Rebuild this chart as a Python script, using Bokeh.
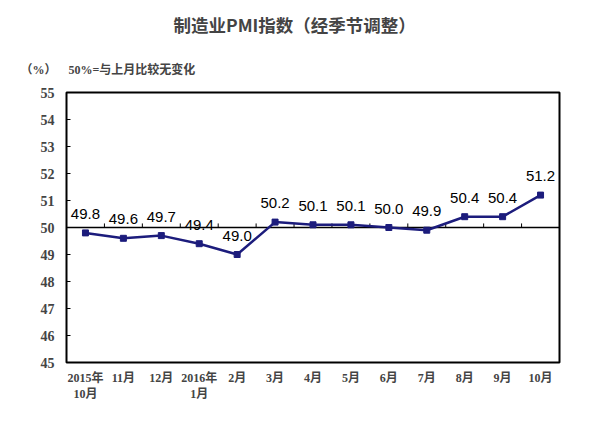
from bokeh.plotting import figure
from bokeh.models import Range1d, FixedTicker, Title, ColumnDataSource, LabelSet
from bokeh.core.properties import value
from bokeh.embed import file_html
from bokeh.resources import INLINE

months = ["2015年\n10月", "11月", "12月", "2016年\n1月", "2月", "3月", "4月",
          "5月", "6月", "7月", "8月", "9月", "10月"]
pmi = [49.8, 49.6, 49.7, 49.4, 49.0, 50.2, 50.1, 50.1, 50.0, 49.9, 50.4, 50.4, 51.2]
y_ticks = [45, 46, 47, 48, 49, 50, 51, 52, 53, 54, 55]
baseline = 50
title_text = "制造业PMI指数（经季节调整）"
sub_text = "（%）\u00a0\u00a0\u00a0\u00a050%=与上月比较无变化"

xs = list(range(len(months)))
labels = [f"{v:.1f}" for v in pmi]
src = ColumnDataSource(dict(x=xs, y=pmi, t=labels))

NAVY = "#1c1c7c"
SERIF = "'Liberation Serif', 'Noto Sans CJK SC'"

p = figure(width=584, height=412, output_backend="svg", toolbar_location=None,
           x_range=Range1d(-0.5, len(months) - 0.5), y_range=Range1d(y_ticks[0], y_ticks[-1]),
           min_border_left=66, min_border_right=25, min_border_bottom=50, min_border_top=14)
p.background_fill_color = "white"
p.border_fill_color = "white"
p.outline_line_color = "black"
p.outline_line_width = 2
p.xgrid.visible = False
p.ygrid.visible = False

# y axis
p.yaxis.ticker = FixedTicker(ticks=y_ticks)
p.yaxis.major_tick_in = 4
p.yaxis.major_tick_out = 0
p.yaxis.minor_tick_line_color = None
p.yaxis.axis_line_color = "black"
p.yaxis.major_label_text_font = SERIF
p.yaxis.major_label_text_font_style = "bold"
p.yaxis.major_label_text_font_size = "14px"
p.yaxis.major_label_standoff = 12

# x axis
p.xaxis.ticker = FixedTicker(ticks=xs)
p.xaxis.major_label_overrides = {i: m for i, m in enumerate(months)}
p.xaxis.major_tick_line_color = None
p.xaxis.minor_tick_line_color = None
p.xaxis.axis_line_color = "black"
p.xaxis.major_label_text_font = SERIF
p.xaxis.major_label_text_font_style = "bold"
p.xaxis.major_label_text_font_size = "12px"
p.xaxis.major_label_standoff = 2

# baseline at 50 with ticks at category boundaries
p.line(x=[-0.5, len(months) - 0.5], y=[baseline, baseline], line_color="black", line_width=1.5)
bx = [i + 0.5 for i in range(len(months) - 1)]
p.segment(x0=bx, y0=[baseline] * len(bx), x1=bx, y1=[baseline + 0.15] * len(bx),
          line_color="black", line_width=1)

# series
p.line(x="x", y="y", source=src, line_color=NAVY, line_width=2.5)
p.scatter(x="x", y="y", source=src, marker="square", size=6, fill_color=NAVY, line_color=NAVY)

lbl = LabelSet(x="x", y="y", text="t", source=src, x_offset=0, y_offset=14,
               text_align="center", text_baseline="alphabetic",
               text_font=value("Liberation Sans"), text_font_size="15px", text_color="black")
p.add_layout(lbl)

p.add_layout(Title(text=sub_text, align="left", offset=-46, text_font=SERIF,
                   text_font_style="bold", text_font_size="12px", standoff=31), "above")
p.add_layout(Title(text=title_text, align="left", offset=107, text_font="Noto Sans CJK SC",
                   text_font_style="bold", text_font_size="17.5px", standoff=18), "above")

open("out.html", "w").write(file_html(p, INLINE))
